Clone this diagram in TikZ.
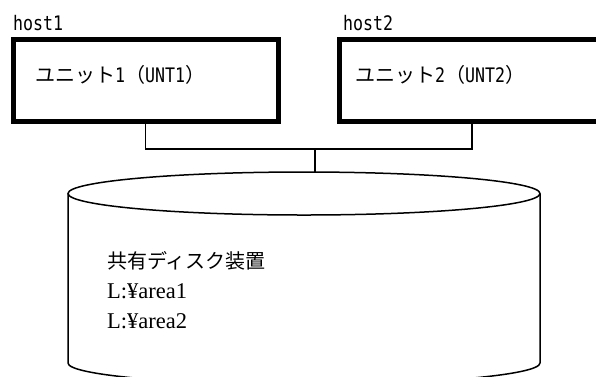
\documentclass[tikz,border=0pt]{standalone}
\usepackage{fontspec}
\setmainfont{Liberation Serif}
\newfontfamily\jp{Noto Sans CJK JP}
\newfontfamily\hw[FakeStretch=0.83]{DejaVu Sans Mono}
\begin{document}
\begin{tikzpicture}[x=1pt,y=-1pt,
  hostbox/.style={draw=black, line width=5pt, minimum width=264.5pt, minimum height=82pt, inner sep=0pt, outer sep=0pt},
  wire/.style={draw=black, line width=1.3pt},
  disk/.style={draw=black, line width=1.5pt},
  gtext/.style={anchor=base west, inner sep=0pt, font=\fontsize{20}{24}\selectfont},
  stext/.style={anchor=base west, inner sep=0pt, font=\fontsize{22.5}{27}\selectfont}]
\useasboundingbox (0,0) rectangle (596,376);
\clip (0,0) rectangle (596,376);
% host boxes
\node[hostbox] (box1) at (145.75,80.5) {};
\node[hostbox, minimum width=281pt] (box2) at (479.5,80.5) {};
\node[gtext] (host1) at (13,30) {\hw host1};
\node[gtext] (host2) at (343,30) {\hw host2};
\node[gtext] (unit1) at (35,82) {\jp ユニット\hw 1\jp （\hw UNT1\jp ）};
\node[gtext] (unit2) at (355,82) {\jp ユニット\hw 2\jp （\hw UNT2\jp ）};
% disk
\draw[disk] (304,193.5) ellipse [x radius=236, y radius=21.5];
\draw[disk] (68,193.5) -- (68,363) arc[start angle=180, end angle=360, x radius=236, y radius=-21.5] -- (540,193.5);
\coordinate (disktop) at (315,172);
\node[gtext] (dlabel) at (107,268) {\jp 共有ディスク装置};
\node[stext] (area1) at (107,298) {L:¥area1};
\node[stext] (area2) at (107,328) {L:¥area2};
% connectors
\coordinate (j1) at (145.75,149);
\coordinate (j2) at (472,149);
\coordinate (jd) at (315,149);
\draw[wire] (box1.south) -- (j1) -- (j2) -- (j2 |- box2.south);
\draw[wire] (jd) -- (disktop);
\end{tikzpicture}
\end{document}
